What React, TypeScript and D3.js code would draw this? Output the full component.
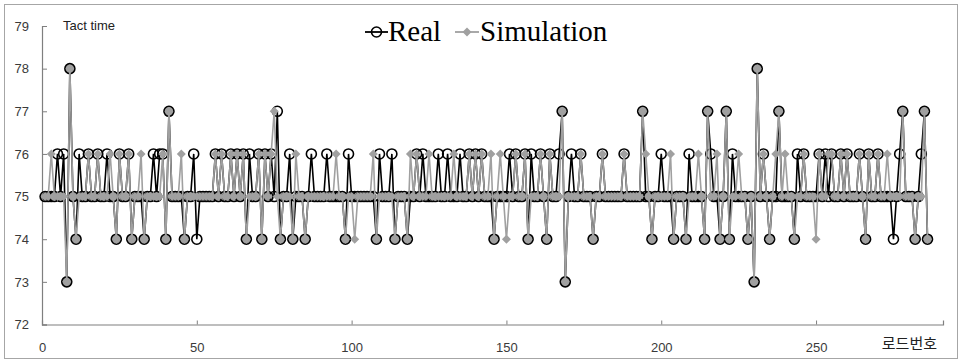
import { useEffect, useRef } from 'react';
import * as d3 from 'd3';

// tact time per load (index 1..286)
const realValues = [
  75, 75, 75, 75, 76, 75, 76, 73, 78, 75,
  74, 76, 75, 75, 76, 75, 75, 76, 75, 75,
  76, 75, 75, 74, 76, 75, 75, 76, 74, 75,
  75, 75, 74, 75, 75, 76, 75, 76, 76, 74,
  77, 75, 75, 75, 75, 74, 75, 75, 76, 74,
  75, 75, 75, 75, 75, 76, 75, 76, 75, 75,
  76, 75, 76, 75, 76, 74, 76, 75, 75, 76,
  74, 76, 75, 76, 75, 77, 74, 75, 75, 76,
  74, 75, 75, 75, 74, 75, 76, 75, 75, 75,
  75, 76, 75, 75, 75, 75, 75, 74, 76, 75,
  75, 75, 75, 75, 75, 75, 75, 74, 76, 75,
  75, 75, 76, 74, 75, 75, 75, 74, 75, 75,
  76, 75, 76, 75, 75, 75, 75, 76, 75, 75,
  76, 75, 75, 75, 76, 75, 75, 76, 75, 76,
  75, 76, 75, 75, 75, 74, 75, 75, 75, 75,
  76, 75, 76, 75, 75, 76, 74, 76, 75, 75,
  76, 75, 74, 76, 75, 75, 76, 77, 73, 75,
  76, 75, 75, 76, 75, 75, 75, 74, 75, 75,
  76, 75, 75, 75, 75, 75, 75, 76, 75, 75,
  75, 75, 75, 77, 75, 75, 74, 75, 75, 76,
  75, 75, 75, 74, 75, 75, 75, 74, 76, 75,
  75, 75, 75, 74, 77, 76, 75, 75, 74, 75,
  77, 74, 76, 75, 75, 75, 75, 74, 75, 73,
  78, 75, 76, 75, 74, 75, 75, 77, 75, 75,
  75, 75, 74, 76, 75, 76, 75, 75, 75, 75,
  76, 75, 76, 75, 76, 75, 75, 76, 75, 76,
  75, 75, 75, 76, 75, 74, 76, 75, 75, 76,
  75, 75, 75, 75, 74, 75, 76, 77, 75, 75,
  75, 74, 75, 76, 77, 74,
];

const simValues = [
  75, 75, 76, 75, 75, 75, 75, 73, 78, 75,
  74, 75, 75, 75, 76, 75, 75, 76, 75, 75,
  75, 76, 75, 74, 76, 75, 75, 76, 74, 75,
  75, 76, 74, 75, 75, 75, 75, 75, 76, 74,
  77, 75, 75, 75, 76, 74, 75, 75, 75, 75,
  75, 75, 75, 75, 75, 76, 75, 76, 75, 75,
  76, 75, 76, 75, 76, 74, 75, 75, 75, 76,
  74, 76, 75, 76, 77, 75, 74, 75, 75, 75,
  74, 76, 75, 75, 74, 75, 75, 75, 75, 75,
  75, 75, 75, 75, 76, 75, 75, 74, 75, 75,
  74, 75, 75, 75, 75, 75, 76, 74, 75, 75,
  75, 75, 75, 74, 75, 75, 75, 74, 76, 75,
  76, 75, 75, 75, 76, 75, 75, 75, 75, 75,
  75, 75, 76, 75, 75, 75, 75, 76, 75, 76,
  75, 76, 75, 75, 76, 74, 75, 76, 75, 74,
  75, 75, 76, 75, 75, 76, 74, 75, 75, 75,
  76, 75, 74, 76, 75, 75, 75, 77, 73, 75,
  75, 75, 75, 76, 75, 75, 75, 74, 75, 75,
  76, 75, 75, 75, 75, 75, 75, 76, 75, 75,
  75, 75, 75, 77, 76, 75, 74, 75, 75, 75,
  75, 75, 76, 74, 75, 75, 75, 74, 75, 75,
  75, 76, 75, 74, 77, 75, 75, 76, 74, 75,
  77, 74, 75, 75, 76, 75, 75, 74, 75, 73,
  78, 75, 76, 75, 74, 75, 76, 77, 75, 76,
  75, 75, 74, 75, 75, 76, 75, 75, 75, 74,
  76, 75, 75, 76, 76, 75, 75, 76, 75, 76,
  75, 75, 75, 76, 75, 74, 76, 75, 75, 76,
  75, 75, 76, 75, 75, 75, 75, 77, 75, 75,
  75, 74, 75, 75, 77, 74,
];

const yTicks = [72, 73, 74, 75, 76, 77, 78, 79];
const xTicks = [0, 50, 100, 150, 200, 250];
const seriesNames = ['Real', 'Simulation'];

const W = 962;
const H = 363;
const GRAY = '#a0a0a0';
const AXIS = '#7f7f7f';
const LABEL = '#3a3a3a';

export default function App() {
  const svgRef = useRef<SVGSVGElement | null>(null);

  useEffect(() => {
    if (!svgRef.current) return;
    const svg = d3.select(svgRef.current);
    svg.selectAll('*').remove();

    const x = d3.scaleLinear().domain([0, 291]).range([42, 943]);
    const y = d3.scaleLinear().domain([72, 79]).range([324.5, 26]);

    // frame
    svg.append('rect')
      .attr('x', 4.5).attr('y', 4.5)
      .attr('width', W - 9).attr('height', H - 9)
      .attr('fill', '#fff')
      .attr('stroke', '#a6a6a6');

    // y axis
    const yAxis = d3.axisLeft(y).tickValues(yTicks).tickSize(-5).tickPadding(17).tickFormat(d3.format('d'));
    svg.append('g')
      .attr('transform', `translate(${x(0)},0)`)
      .call(yAxis)
      .call(g => {
        g.select('.domain').attr('stroke', AXIS).attr('stroke-width', 1.2);
        g.selectAll('.tick line').attr('stroke', AXIS);
        g.selectAll('.tick text')
          .attr('fill', LABEL)
          .attr('font-size', 13)
          .attr('font-family', '"Liberation Sans", Arial, sans-serif')
          .attr('dx', 4);
      });

    // x axis
    const xAxis = d3.axisBottom(x).tickValues(xTicks).tickSize(-4).tickPadding(18);
    svg.append('g')
      .attr('transform', `translate(0,${y(72)})`)
      .call(xAxis)
      .call(g => {
        g.select('.domain').attr('stroke', AXIS).attr('stroke-width', 1.2);
        g.selectAll('.tick line').attr('stroke', AXIS);
        g.selectAll('.tick text')
          .attr('fill', LABEL)
          .attr('font-size', 13)
          .attr('font-family', '"Liberation Sans", Arial, sans-serif');
      });

    svg.append('text')
      .attr('x', 63).attr('y', 30)
      .attr('font-size', 13)
      .attr('font-family', '"Liberation Sans", Arial, sans-serif')
      .attr('fill', '#222')
      .text('Tact time');

    svg.append('text')
      .attr('x', 937).attr('y', 349)
      .attr('text-anchor', 'end')
      .attr('font-size', 15)
      .attr('font-family', '"Noto Sans CJK KR", sans-serif')
      .attr('fill', '#222')
      .text('로드번호');

    const realPts = realValues.map((v, i) => ({ n: i + 1, v, sim: simValues[i] }));
    const simPts = simValues.map((v, i) => ({ n: i + 1, v }));

    const line = d3.line<{ n: number; v: number }>().x(d => x(d.n)).y(d => y(d.v));

    // Real
    svg.append('path')
      .datum(realPts)
      .attr('d', line)
      .attr('fill', 'none')
      .attr('stroke', '#000')
      .attr('stroke-width', 1.6);

    svg.append('g')
      .selectAll('circle')
      .data(realPts)
      .enter()
      .append('circle')
      .attr('cx', d => x(d.n))
      .attr('cy', d => y(d.v))
      .attr('r', 5)
      .attr('fill', d => (d.v === d.sim && d.v !== 76 ? GRAY : 'none'))
      .attr('stroke', '#000')
      .attr('stroke-width', 1.6);

    // Simulation
    svg.append('path')
      .datum(simPts)
      .attr('d', line)
      .attr('fill', 'none')
      .attr('stroke', GRAY)
      .attr('stroke-width', 1.6);

    const diamond = 'M0,-4.5L4.5,0L0,4.5L-4.5,0Z';
    svg.append('g')
      .selectAll('path')
      .data(simPts)
      .enter()
      .append('path')
      .attr('transform', d => `translate(${x(d.n)},${y(d.v)})`)
      .attr('d', diamond)
      .attr('fill', GRAY);

    // legend
    const leg = svg.append('g').attr('font-family', '"Liberation Serif", "Times New Roman", serif').attr('font-size', 29);
    leg.append('line').attr('x1', 365).attr('x2', 388).attr('y1', 32).attr('y2', 32).attr('stroke', '#000').attr('stroke-width', 1.8);
    leg.append('circle').attr('cx', 376.5).attr('cy', 32).attr('r', 5).attr('fill', 'none').attr('stroke', '#000').attr('stroke-width', 1.6);
    leg.append('text').attr('x', 388).attr('y', 41).attr('fill', '#000').text(seriesNames[0]);
    leg.append('line').attr('x1', 455).attr('x2', 479).attr('y1', 32).attr('y2', 32).attr('stroke', GRAY).attr('stroke-width', 1.8);
    leg.append('path').attr('transform', 'translate(467,32)').attr('d', diamond).attr('fill', GRAY);
    leg.append('text').attr('x', 480).attr('y', 41).attr('fill', '#000').text(seriesNames[1]);
  }, []);

  return (
    <div style={{ position: 'absolute', left: 0, top: 0 }}>
      <svg ref={svgRef} width={W} height={H} style={{ display: 'block' }} />
    </div>
  );
}
